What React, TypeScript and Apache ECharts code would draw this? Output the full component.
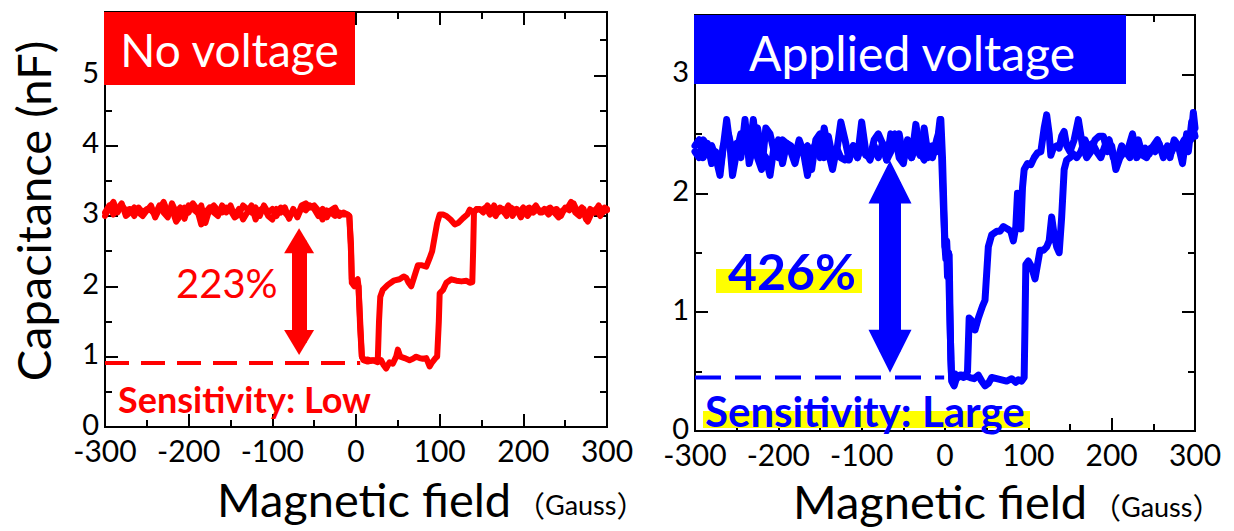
import React, { useEffect, useRef } from "react";
import * as echarts from "echarts";

// ---------- data ----------
const xTickLabels = [-300, -200, -100, 0, 100, 200, 300];
const leftYTickLabels = [0, 1, 2, 3, 4, 5];
const rightYTickLabels = [0, 1, 2, 3];

// No voltage (red) – sweep with early recovery
const noVoltageSweepA: [number, number][] = [
  [-300, 3.0], [-295, 3.12], [-290, 3.2], [-285, 3.05], [-280, 3.15], [-275, 3.08], [-270, 3.1], [-265, 3.0],
  [-260, 3.12], [-255, 3.05], [-250, 3.1], [-245, 3.08], [-240, 3.02], [-235, 3.15], [-230, 3.05], [-225, 2.98],
  [-220, 3.18], [-215, 3.05], [-210, 3.12], [-205, 2.96], [-200, 3.15], [-195, 3.1], [-190, 3.05], [-185, 3.15],
  [-180, 2.9], [-175, 3.1], [-170, 3.15], [-165, 3.08], [-160, 3.05], [-155, 3.12], [-150, 3.08], [-145, 2.98],
  [-140, 3.02], [-135, 3.15], [-130, 3.1], [-125, 3.05], [-120, 3.12], [-115, 3.0], [-110, 3.15], [-105, 3.05],
  [-100, 3.1], [-95, 3.0], [-90, 3.12], [-85, 3.05], [-80, 2.98], [-75, 3.08], [-70, 3.0], [-65, 3.15],
  [-60, 3.18], [-55, 3.12], [-50, 3.15], [-45, 3.08], [-40, 2.95], [-35, 3.08], [-30, 3.05], [-25, 3.0],
  [-20, 3.05], [-15, 3.02], [-10, 3.02], [-8, 3.0], [-6, 2.6], [-5, 2.1], [-3, 2.05], [0, 2.08], [2, 2.1],
  [3, 2.0], [5, 1.5], [7, 1.0], [10, 0.95], [14, 0.96], [18, 0.94], [22, 0.95], [26, 0.94], [27.5, 1.5],
  [29, 1.85], [32, 1.95], [38, 2.02], [45, 2.08], [52, 2.1], [57, 2.14], [60, 2.12], [63, 2.05], [66, 2.0],
  [70, 2.15], [74, 2.3], [78, 2.3], [84, 2.28], [88, 2.4], [91, 2.5], [94, 2.7], [97, 2.9], [100, 3.02],
  [104, 3.02], [108, 3.0], [113, 2.95], [118, 2.88], [122, 2.9], [128, 2.97], [133, 3.02], [136, 3.09],
  [140, 3.05], [145, 3.1], [150, 3.08], [155, 3.12], [160, 3.02], [165, 3.15], [170, 3.05], [175, 3.1],
  [180, 3.0], [185, 3.12], [190, 3.08], [195, 3.05], [200, 3.12], [205, 3.0], [210, 3.08], [215, 3.15],
  [220, 3.05], [225, 3.1], [230, 3.02], [235, 3.08], [240, 3.1], [245, 3.0], [250, 3.12], [255, 3.08],
  [260, 3.18], [265, 3.05], [270, 3.12], [275, 2.95], [280, 3.1], [285, 3.05], [290, 3.15], [295, 3.05], [300, 3.1],
];

// No voltage (red) – sweep with late recovery
const noVoltageSweepB: [number, number][] = [
  [-300, 3.05], [-295, 3.15], [-290, 3.02], [-285, 3.1], [-280, 3.18], [-275, 3.0], [-270, 3.05], [-265, 3.12],
  [-260, 3.05], [-255, 3.0], [-250, 3.08], [-245, 3.15], [-240, 2.98], [-235, 3.1], [-230, 3.2], [-225, 3.05],
  [-220, 3.1], [-215, 2.92], [-210, 3.0], [-205, 3.12], [-200, 3.05], [-195, 3.18], [-190, 3.1], [-185, 2.88],
  [-180, 3.05], [-175, 3.12], [-170, 3.05], [-165, 3.0], [-160, 3.15], [-155, 3.05], [-150, 3.15], [-145, 3.0],
  [-140, 3.1], [-135, 2.95], [-130, 3.05], [-125, 3.15], [-120, 2.95], [-115, 3.08], [-110, 3.12], [-105, 3.0],
  [-100, 2.95], [-95, 3.1], [-90, 3.05], [-85, 3.12], [-80, 2.96], [-75, 3.1], [-70, 2.98], [-65, 3.12],
  [-60, 3.08], [-55, 3.15], [-50, 3.1], [-45, 3.0], [-40, 3.1], [-35, 2.98], [-30, 3.08], [-25, 3.12],
  [-20, 3.0], [-15, 3.05], [-10, 3.02], [-8, 3.0], [-6, 2.5], [-5, 2.05], [-2, 2.0], [1, 2.05], [3, 2.0],
  [5, 1.4], [7, 1.0], [9, 0.95], [14, 0.93], [20, 0.95], [26, 0.92], [30, 0.95], [33, 0.88], [36, 0.83],
  [40, 0.92], [44, 0.9], [48, 1.0], [50, 1.1], [53, 1.0], [58, 0.98], [64, 0.95], [68, 0.97], [72, 1.0],
  [76, 0.98], [80, 0.97], [84, 0.98], [88, 0.86], [91, 0.92], [95, 0.98], [97, 1.0], [99, 1.5], [100, 1.9],
  [104, 1.95], [108, 2.05], [114, 2.1], [120, 2.08], [126, 2.07], [132, 2.08], [136, 2.05], [139, 2.06],
  [140, 2.5], [141, 3.05], [144, 3.1], [148, 3.1], [152, 3.05], [157, 3.15], [162, 3.08], [167, 3.0],
  [172, 3.12], [177, 3.05], [182, 3.15], [187, 3.0], [192, 3.1], [197, 2.98], [202, 3.08], [207, 3.12],
  [212, 3.05], [217, 3.1], [222, 3.05], [227, 3.08], [232, 3.12], [237, 3.05], [242, 2.98], [247, 3.08],
  [252, 3.1], [257, 3.2], [262, 3.05], [267, 3.0], [272, 3.1], [277, 2.92], [282, 3.05], [287, 3.1],
  [292, 3.0], [297, 3.12], [300, 3.08],
];

// Applied voltage (blue) – sweep with early recovery
const appliedSweepA: [number, number][] = [
  [-300, 2.4], [-295, 2.45], [-290, 2.3], [-285, 2.42], [-280, 2.25], [-275, 2.35], [-270, 2.2], [-265, 2.45],
  [-262, 2.62], [-258, 2.4], [-255, 2.15], [-250, 2.35], [-245, 2.5], [-240, 2.48], [-235, 2.35], [-230, 2.62],
  [-225, 2.3], [-220, 2.2], [-215, 2.55], [-210, 2.5], [-205, 2.35], [-200, 2.45], [-195, 2.25], [-190, 2.42],
  [-185, 2.4], [-180, 2.3], [-175, 2.45], [-170, 2.35], [-165, 2.4], [-160, 2.2], [-155, 2.45], [-150, 2.5],
  [-145, 2.3], [-140, 2.48], [-135, 2.3], [-130, 2.35], [-125, 2.6], [-120, 2.45], [-115, 2.28], [-110, 2.4],
  [-105, 2.3], [-100, 2.4], [-95, 2.32], [-90, 2.3], [-85, 2.45], [-80, 2.5], [-75, 2.42], [-70, 2.28],
  [-65, 2.35], [-60, 2.5], [-55, 2.3], [-50, 2.25], [-45, 2.45], [-40, 2.3], [-35, 2.58], [-30, 2.35],
  [-25, 2.28], [-20, 2.4], [-15, 2.3], [-10, 2.45], [-8, 2.5], [-6, 2.62], [-4, 2.3], [-2, 1.9], [0, 1.55],
  [1, 1.45], [2, 1.52], [3, 1.3], [4, 1.5], [5, 1.48], [6, 1.0], [7, 0.6], [8, 0.45], [10, 0.4], [12, 0.48],
  [16, 0.45], [20, 0.47], [24, 0.46], [27, 0.5], [29, 0.95], [32, 0.93], [36, 0.85], [40, 0.95], [45, 1.05],
  [48, 1.1], [52, 1.55], [56, 1.65], [62, 1.68], [66, 1.68], [70, 1.72], [75, 1.7], [79, 1.68], [82, 1.6],
  [85, 1.72], [87, 2.0], [89, 1.9], [91, 1.7], [93, 2.05], [95, 2.2], [99, 2.25], [103, 2.24], [107, 2.3],
  [111, 2.34], [115, 2.35], [119, 2.55], [122, 2.66], [125, 2.5], [127, 2.32], [130, 2.38], [134, 2.4],
  [137, 2.38], [140, 2.48], [143, 2.52], [146, 2.4], [150, 2.35], [155, 2.45], [160, 2.62], [165, 2.4],
  [170, 2.3], [175, 2.35], [180, 2.45], [185, 2.48], [190, 2.48], [195, 2.35], [200, 2.4], [205, 2.2],
  [210, 2.3], [215, 2.35], [220, 2.38], [225, 2.5], [230, 2.3], [235, 2.35], [240, 2.38], [245, 2.33],
  [250, 2.4], [255, 2.45], [260, 2.35], [265, 2.38], [270, 2.3], [275, 2.45], [280, 2.4], [285, 2.25],
  [290, 2.5], [295, 2.45], [298, 2.68], [300, 2.55],
];

// Applied voltage (blue) – sweep with late recovery
const appliedSweepB: [number, number][] = [
  [-300, 2.35], [-295, 2.3], [-290, 2.45], [-285, 2.38], [-280, 2.4], [-275, 2.3], [-270, 2.15], [-266, 2.4],
  [-260, 2.5], [-255, 2.35], [-250, 2.42], [-245, 2.3], [-240, 2.62], [-235, 2.25], [-230, 2.4], [-225, 2.55],
  [-220, 2.35], [-215, 2.3], [-210, 2.15], [-205, 2.4], [-200, 2.3], [-195, 2.45], [-190, 2.42], [-185, 2.35],
  [-180, 2.25], [-175, 2.4], [-170, 2.35], [-165, 2.15], [-160, 2.35], [-155, 2.42], [-150, 2.3], [-145, 2.55],
  [-140, 2.35], [-135, 2.2], [-130, 2.38], [-125, 2.3], [-120, 2.28], [-115, 2.32], [-110, 2.4], [-105, 2.3],
  [-100, 2.6], [-95, 2.35], [-90, 2.28], [-85, 2.4], [-80, 2.3], [-75, 2.42], [-70, 2.28], [-65, 2.5],
  [-60, 2.4], [-55, 2.5], [-50, 2.3], [-45, 2.35], [-40, 2.3], [-35, 2.4], [-30, 2.32], [-25, 2.55],
  [-20, 2.3], [-15, 2.4], [-10, 2.35], [-5, 2.62], [-3, 2.3], [-1, 1.8], [0, 1.55], [2, 1.6], [3, 1.45],
  [4, 1.5], [6, 0.9], [8, 0.42], [11, 0.38], [14, 0.45], [18, 0.47], [22, 0.45], [26, 0.46], [30, 0.45],
  [35, 0.44], [40, 0.47], [44, 0.42], [48, 0.38], [52, 0.4], [56, 0.45], [62, 0.44], [68, 0.43], [74, 0.42],
  [80, 0.44], [85, 0.41], [88, 0.43], [92, 0.42], [95, 0.45], [96, 0.9], [97, 1.4], [100, 1.43], [104, 1.38],
  [108, 1.28], [111, 1.4], [114, 1.52], [118, 1.52], [122, 1.55], [125, 1.6], [128, 1.8], [131, 1.65],
  [134, 1.55], [137, 1.5], [140, 1.8], [143, 2.2], [146, 2.28], [150, 2.3], [154, 2.33], [158, 2.3],
  [163, 2.35], [168, 2.45], [172, 2.38], [177, 2.42], [182, 2.35], [187, 2.3], [192, 2.4], [197, 2.45],
  [202, 2.3], [207, 2.28], [212, 2.4], [217, 2.35], [222, 2.3], [227, 2.38], [232, 2.45], [237, 2.32],
  [242, 2.3], [247, 2.38], [252, 2.35], [257, 2.42], [262, 2.3], [267, 2.4], [272, 2.35], [277, 2.42],
  [282, 2.38], [287, 2.45], [292, 2.35], [296, 2.6], [300, 2.48],
];

// reference (minimum) levels and arrows
const noVoltageMinLine: [number, number][] = [[-300, 0.91], [5, 0.91]];
const appliedMinLine: [number, number][] = [[-300, 0.45], [-1, 0.45]];
const noVoltageArrow = { x: -68, top: 2.648, bottom: 1.202 };
const appliedArrow = { x: -66, top: 2.096, bottom: 0.671 };

const RED = "#ff0000";
const BLUE = "#0000ff";
const YELLOW = "#ffff00";
const FONT = 'Lato, "Noto Sans CJK JP", sans-serif';
const CJK = '"Noto Sans CJK JP", sans-serif';

const TICK_STYLE = { color: "#000", width: 2 };

function xAxes(gridIndex: number) {
  const base = {
    type: "value",
    gridIndex,
    min: xTickLabels[0],
    max: xTickLabels[xTickLabels.length - 1],
    interval: 100,
    axisLine: { show: false, onZero: false },
    splitLine: { show: false },
    axisTick: { show: true, inside: true, length: 13, lineStyle: TICK_STYLE },
    minorTick: { show: true, splitNumber: 2, length: 7, lineStyle: TICK_STYLE },
  };
  return [
    {
      ...base,
      position: "bottom",
      axisLabel: { show: true, color: "#000", fontSize: 30, lineHeight: 24, fontFamily: FONT, margin: 11 },
    },
    { ...base, position: "top", axisLabel: { show: false } },
  ];
}

function yAxes(gridIndex: number, max: number, labels: number[]) {
  const base = {
    type: "value",
    gridIndex,
    min: 0,
    max,
    axisLine: { show: false, onZero: false },
    splitLine: { show: false },
  };
  const major = {
    ...base,
    interval: 1,
    axisTick: { show: true, inside: true, length: 13, lineStyle: TICK_STYLE },
  };
  const minor = {
    ...base,
    interval: 0.5,
    axisTick: { show: true, inside: true, length: 7, lineStyle: TICK_STYLE },
    axisLabel: { show: false },
  };
  return [
    {
      ...major,
      position: "left",
      axisLabel: {
        show: true,
        color: "#000",
        fontSize: 29,
        lineHeight: 8,
        verticalAlign: "bottom",
        fontFamily: FONT,
        margin: 6,
        formatter: (v: number) => (labels.includes(v) ? String(v) : ""),
      },
    },
    { ...minor, position: "left" },
    { ...major, position: "right", axisLabel: { show: false } },
    { ...minor, position: "right" },
  ];
}

function curve(data: [number, number][], color: string, width: number, xi: number, yi: number) {
  return {
    type: "line",
    data,
    xAxisIndex: xi,
    yAxisIndex: yi,
    showSymbol: false,
    symbol: "none",
    silent: true,
    lineStyle: { color, width, join: "round", cap: "round" },
    z: 3,
  };
}

function minLine(
  data: [number, number][],
  color: string,
  xi: number,
  yi: number,
  arrow: { x: number; top: number; bottom: number },
  head: [number, number],
  shaft: number,
  dash: number[]
) {
  return {
    type: "line",
    data,
    xAxisIndex: xi,
    yAxisIndex: yi,
    showSymbol: false,
    symbol: "none",
    silent: true,
    lineStyle: { color, width: 4, type: dash },
    z: 2,
    markLine: {
      silent: true,
      symbol: ["triangle", "triangle"],
      symbolSize: head,
      label: { show: false },
      lineStyle: { color, width: shaft, type: "solid", opacity: 1 },
      emphasis: { disabled: true },
      data: [[{ coord: [arrow.x, arrow.top] }, { coord: [arrow.x, arrow.bottom] }]],
    },
  };
}

const gaussRich = {
  p: { fontSize: 29, fontFamily: CJK, fill: "#000", color: "#000" },
  g: { fontSize: 27, fontFamily: FONT, fill: "#000", color: "#000" },
};

const option: any = {
  animation: false,
  backgroundColor: "#ffffff",
  grid: [
    { left: 105, top: 12, width: 502, height: 415, show: true, borderColor: "#000", borderWidth: 2, backgroundColor: "transparent" },
    { left: 695, top: 15, width: 500, height: 416, show: true, borderColor: "#000", borderWidth: 2, backgroundColor: "transparent" },
  ],
  xAxis: [...xAxes(0), ...xAxes(1)],
  yAxis: [...yAxes(0, 5.9, leftYTickLabels), ...yAxes(1, 3.5, rightYTickLabels)],
  series: [
    minLine(noVoltageMinLine, RED, 0, 0, noVoltageArrow, [30, 25], 15, [24, 12]),
    curve(noVoltageSweepA, RED, 6, 0, 0),
    curve(noVoltageSweepB, RED, 6, 0, 0),
    minLine(appliedMinLine, BLUE, 2, 4, appliedArrow, [43, 43], 22, [26, 14]),
    curve(appliedSweepA, BLUE, 7, 2, 4),
    curve(appliedSweepB, BLUE, 7, 2, 4),
  ],
  graphic: [
    // title boxes
    { type: "rect", z: 100, shape: { x: 104, y: 12, width: 251, height: 73 }, style: { fill: RED } },
    {
      type: "text", z: 101, x: 229.5, y: 49,
      style: { text: "No voltage", fill: "#fff", fontSize: 46, fontFamily: FONT, align: "center", verticalAlign: "middle" },
    },
    { type: "rect", z: 100, shape: { x: 694, y: 15, width: 432, height: 69 }, style: { fill: BLUE } },
    {
      type: "text", z: 101, x: 912, y: 52,
      style: { text: "Applied voltage", fill: "#fff", fontSize: 48, fontFamily: FONT, align: "center", verticalAlign: "middle" },
    },
    // y-axis title (left panel only)
    {
      type: "text", z: 101, x: 33, y: 211, rotation: Math.PI / 2,
      style: { text: "Capacitance (nF)", fill: "#000", fontSize: 47, fontFamily: FONT, align: "center", verticalAlign: "middle" },
    },
    // annotations left
    {
      type: "text", z: 101, x: 176, y: 283,
      style: { text: "223%", fill: RED, fontSize: 40, fontFamily: FONT, align: "left", verticalAlign: "middle" },
    },
    {
      type: "text", z: 101, x: 118, y: 399,
      style: { text: "Sensitivity: Low", fill: RED, fontSize: 36, fontWeight: "bold", fontFamily: FONT, align: "left", verticalAlign: "middle" },
    },
    // annotations right
    { type: "rect", z: 99, shape: { x: 716, y: 269, width: 146, height: 24 }, style: { fill: YELLOW } },
    {
      type: "text", z: 101, x: 728, y: 271,
      style: { text: "426%", fill: BLUE, fontSize: 50, fontWeight: "bold", fontFamily: FONT, align: "left", verticalAlign: "middle" },
    },
    { type: "rect", z: 99, shape: { x: 703, y: 411, width: 327, height: 17 }, style: { fill: YELLOW } },
    {
      type: "text", z: 101, x: 705, y: 411,
      style: { text: "Sensitivity: Large", fill: BLUE, fontSize: 42, fontWeight: "bold", fontFamily: FONT, align: "left", verticalAlign: "middle" },
    },
    // x-axis titles
    {
      type: "text", z: 101, x: 217, y: 499,
      style: { text: "Magnetic field", fill: "#000", fontSize: 47, fontFamily: FONT, align: "left", verticalAlign: "middle" },
    },
    {
      type: "text", z: 101, x: 516, y: 504,
      style: { text: "{p|（}{g|Gauss}{p|）}", rich: gaussRich, fill: "#000", fontSize: 27, fontFamily: FONT, align: "left", verticalAlign: "middle" },
    },
    {
      type: "text", z: 101, x: 793, y: 501,
      style: { text: "Magnetic field", fill: "#000", fontSize: 47, fontFamily: FONT, align: "left", verticalAlign: "middle" },
    },
    {
      type: "text", z: 101, x: 1092, y: 506,
      style: { text: "{p|（}{g|Gauss}{p|）}", rich: gaussRich, fill: "#000", fontSize: 27, fontFamily: FONT, align: "left", verticalAlign: "middle" },
    },
  ],
};

export default function App() {
  const ref = useRef<HTMLDivElement>(null);
  useEffect(() => {
    if (!ref.current) return;
    const chart = echarts.init(ref.current, null, { renderer: "svg" });
    chart.setOption(option);
    return () => chart.dispose();
  }, []);
  return (
    <div
      ref={ref}
      style={{ position: "absolute", left: 0, top: 0, width: 1234, height: 531, background: "#fff" }}
    />
  );
}
